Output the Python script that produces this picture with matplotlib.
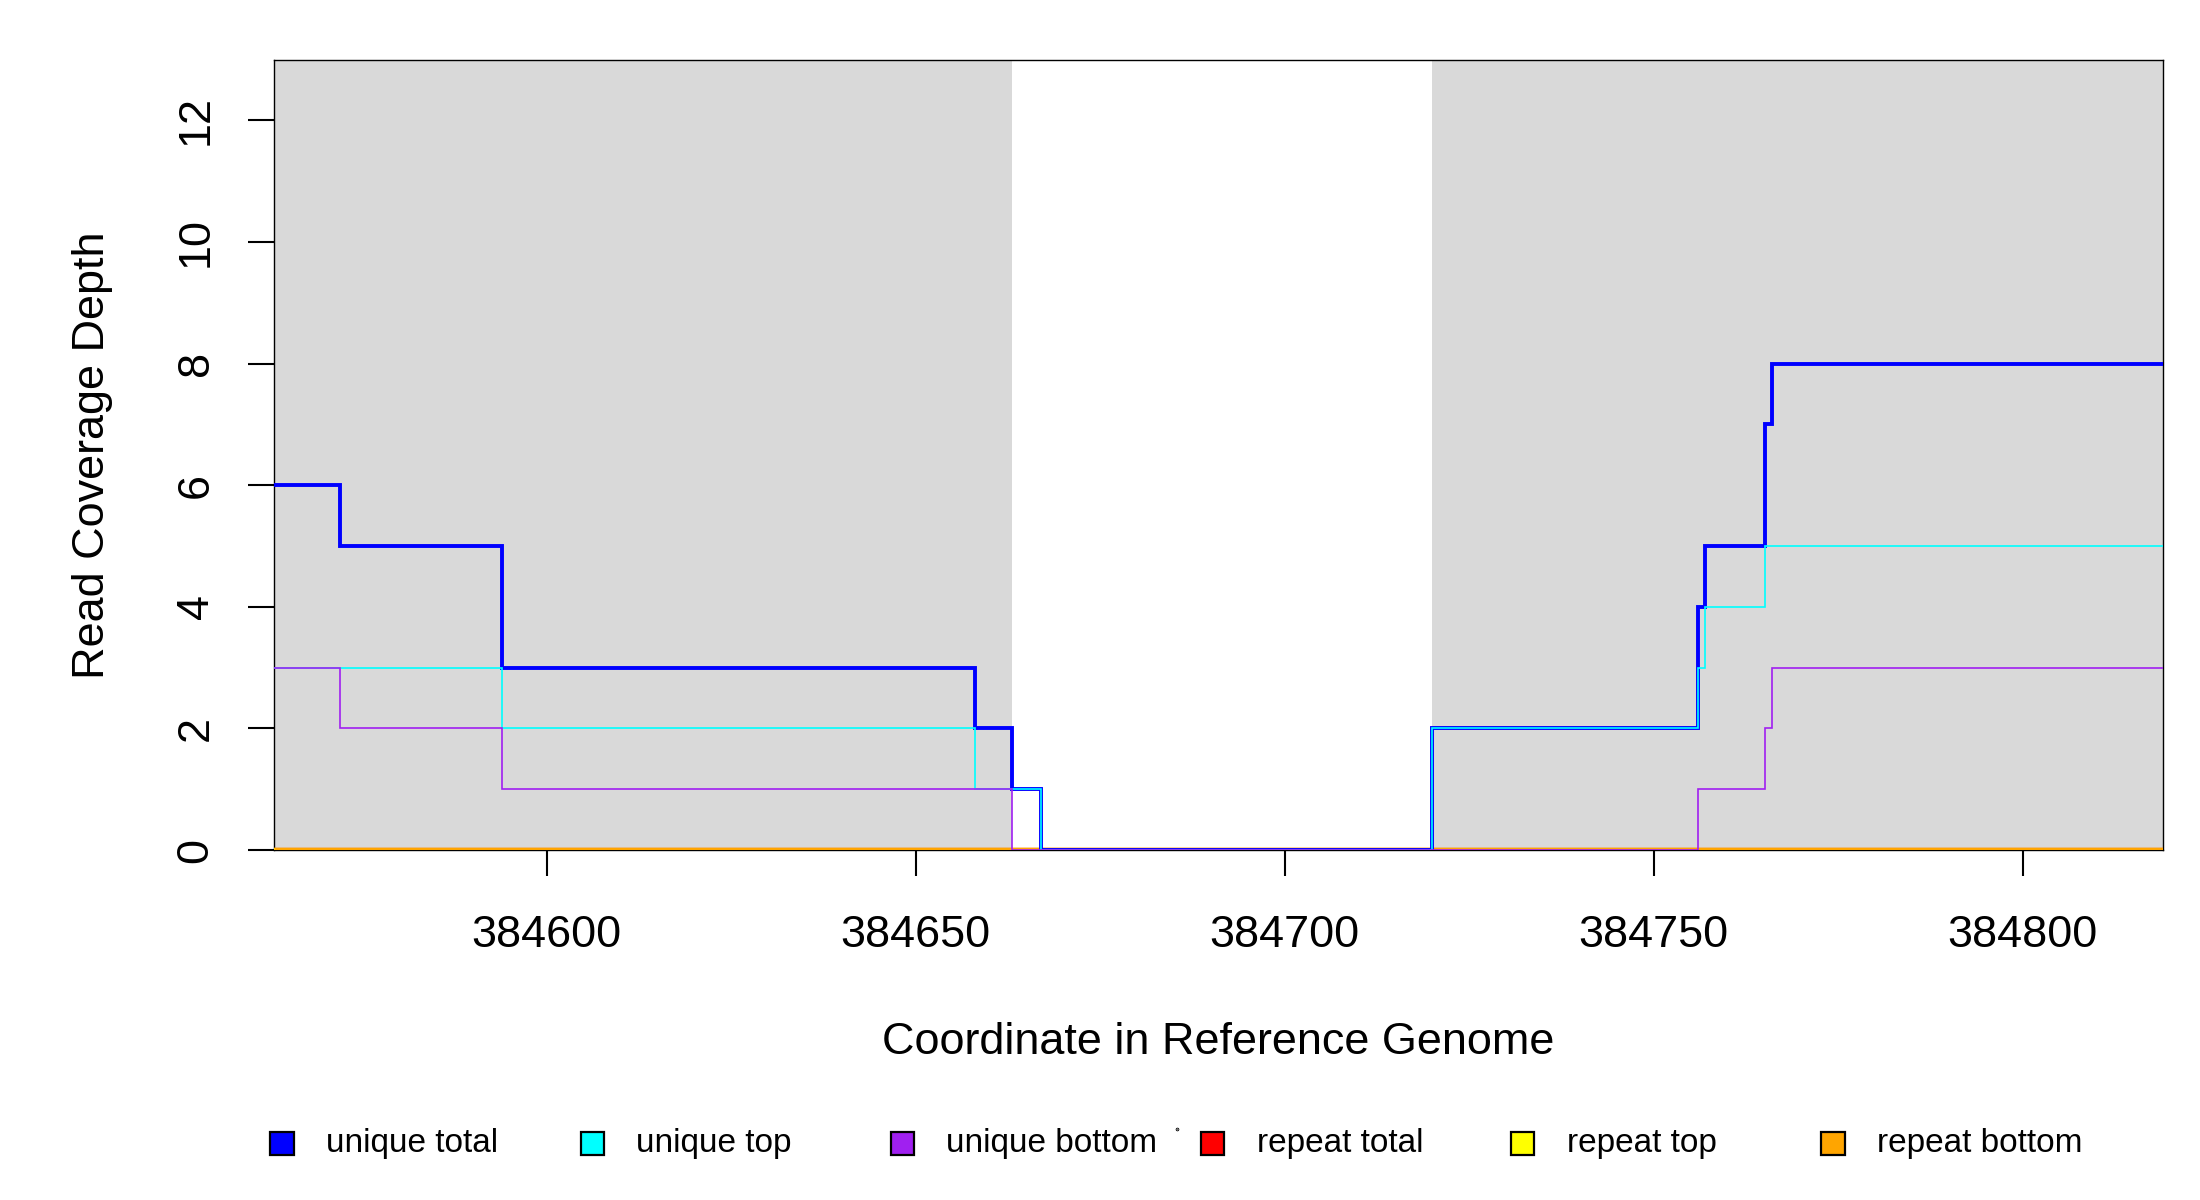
import matplotlib
matplotlib.use("Agg")
import matplotlib.pyplot as plt
from matplotlib.patches import Rectangle
from matplotlib.lines import Line2D

plt.rcParams['font.family'] = ['Liberation Sans', 'DejaVu Sans']

# ---- data ----
edges = [384563, 384572, 384594, 384658, 384663, 384667, 384720,
         384756, 384757, 384765, 384766, 384819]
unique_total = [6, 5, 3, 2, 1, 0, 2, 4, 5, 7, 8]
unique_top = [3, 3, 2, 1, 1, 0, 2, 3, 4, 5, 5]
unique_bottom = [3, 2, 1, 1, 0, 0, 0, 1, 1, 2, 3]
repeat_total = [0] * 11
repeat_top = [0] * 11
repeat_bottom = [0] * 11

shaded_regions = [(384563, 384663), (384720, 384819)]

x_ticks = [384600, 384650, 384700, 384750, 384800]
y_ticks = [0, 2, 4, 6, 8, 10, 12]

labels = ["unique total", "unique top", "unique bottom",
          "repeat total", "repeat top", "repeat bottom"]
colors = ["#0000FF", "#00FFFF", "#A020F0", "#FF0000", "#FFFF00", "#FFA500"]

# ---- figure ----
fig = plt.figure(figsize=(11, 6), dpi=200)
ax = fig.add_axes([0.1244, 0.2916, 0.8588, 0.6588])

for (a, b) in shaded_regions:
    ax.axvspan(a, b, color="#D9D9D9", lw=0, zorder=0)

series = [unique_total, unique_top, unique_bottom,
          repeat_total, repeat_top, repeat_bottom]
widths = [1.4, 0.6, 0.6, 1.6, 1.6, 1.8]
zorders = [4, 5, 6, 1, 2, 3]
for vals, c, w, z in zip(series, colors, widths, zorders):
    ax.stairs(vals, edges, baseline=None, color=c, lw=w, zorder=z)

ax.set_xlim(edges[0], edges[-1])
ax.set_ylim(0, 13)

ax.set_xticks(x_ticks)
ax.set_xticklabels([str(t) for t in x_ticks])
ax.set_yticks(y_ticks)
ax.set_yticklabels([str(t) for t in y_ticks], rotation=90, va="center")
ax.tick_params(axis="both", direction="out", length=9.5, width=0.75,
               labelsize=16.2, color="black")
ax.tick_params(axis="x", pad=14)
ax.tick_params(axis="y", pad=11)
for s in ax.spines.values():
    s.set_linewidth(0.5)
    s.set_color("black")
    s.set_zorder(0.5)

ax.set_xlabel("Coordinate in Reference Genome", fontsize=16.2)
ax.xaxis.set_label_coords(0.5, -0.244)
ax.xaxis.label.set_va("center")
ax.set_ylabel("Read Coverage Depth", fontsize=16.2)
ax.yaxis.set_label_coords(-0.096, 0.5)
ax.yaxis.label.set_va("center")

# ---- legend (horizontal, bottom) ----
leg_y = 0.0472
x0 = 0.1282
step = 0.141
sq_w, sq_h = 0.0105, 0.019
for i, (lab, c) in enumerate(zip(labels, colors)):
    cx = x0 + i * step
    fig.patches.append(Rectangle((cx - sq_w / 2, leg_y - sq_h / 2), sq_w, sq_h,
                                 transform=fig.transFigure, facecolor=c,
                                 edgecolor="black", lw=0.8))
    fig.text(cx + 0.02, leg_y, lab, fontsize=12, va="center", ha="left")
# tiny stray dot seen in the reference legend
fig.lines.append(Line2D([0.5348], [0.059], transform=fig.transFigure,
                        marker="o", markersize=0.3, color="black", lw=0))

fig.savefig("out.png", dpi=200, facecolor="white")
